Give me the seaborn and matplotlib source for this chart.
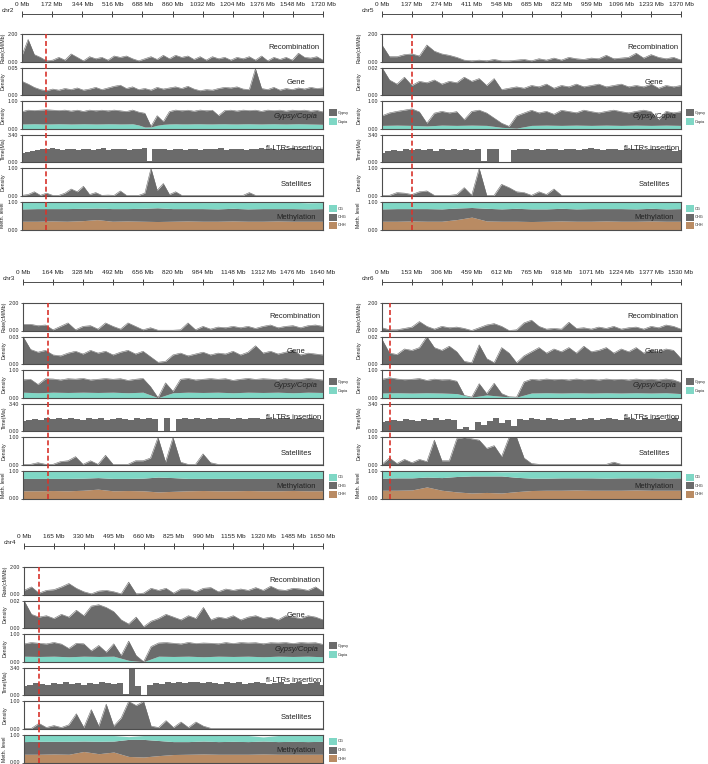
import numpy as np
import matplotlib
matplotlib.use("Agg")
import matplotlib.pyplot as plt
import seaborn as sns
from matplotlib.patches import Rectangle

# ---------------- data ----------------
chroms = ["chr2", "chr5", "chr3", "chr6", "chr4"]
chr_len = {"chr2": 1720, "chr5": 1370, "chr3": 1640, "chr6": 1530, "chr4": 1650}
gene_max = {"chr2": 0.05, "chr5": 0.02, "chr3": 0.03, "chr6": 0.02, "chr4": 0.02}
marker_mb = {"chr2": 135, "chr5": 136, "chr3": 136, "chr6": 42, "chr4": 82}

# chr2
chr2_recomb = [0.45,1.6,0.5,0.3,0.05,0.1,0.3,0.1,0.55,0.3,0.05,0.35,0.2,0.3,0.1,0.4,0.3,0.4,0.2,0.05,
               0.2,0.35,0.15,0.45,0.2,0.45,0.3,0.4,0.15,0.35,0.1,0.35,0.2,0.3,0.1,0.3,0.2,0.35,0.1,0.4,
               0.05,0.3,0.15,0.3,0.1,0.6,0.3,0.25,0.35,0.1]
chr2_gene = [0.025,0.02,0.014,0.01,0.008,0.011,0.009,0.012,0.01,0.013,0.009,0.011,0.014,0.01,0.013,0.016,
             0.018,0.012,0.015,0.01,0.012,0.009,0.014,0.011,0.013,0.015,0.012,0.016,0.011,0.008,0.01,0.009,
             0.012,0.014,0.013,0.015,0.011,0.01,0.048,0.012,0.01,0.014,0.009,0.012,0.01,0.013,0.011,0.014,
             0.012,0.013]
chr2_gypsy = [0.45,0.5,0.48,0.5,0.52,0.5,0.48,0.5,0.47,0.5,0.45,0.5,0.48,0.5,0.47,0.5,0.48,0.45,0.5,0.47,
              0.5,0.02,0.35,0.1,0.45,0.5,0.48,0.5,0.46,0.5,0.48,0.5,0.3,0.48,0.5,0.47,0.5,0.48,0.5,0.46,
              0.5,0.48,0.5,0.47,0.5,0.48,0.5,0.47,0.5,0.45]
chr2_copia = [0.17,0.18,0.17,0.18,0.17,0.18,0.17,0.18,0.17,0.18,0.03,0.15,0.18,0.17,0.18,0.17,0.18,0.17,
              0.18,0.17,0.18,0.17,0.18,0.17,0.16]
chr2_ltr = [1.2,1.3,1.4,1.5,1.7,1.6,1.8,1.6,1.5,1.7,1.6,1.5,1.6,1.7,1.5,1.6,1.8,1.5,1.6,1.7,1.6,1.5,1.7,
            1.6,1.8,0.2,1.6,1.7,1.6,1.5,1.7,1.6,1.5,1.6,1.7,1.5,1.6,1.7,1.6,1.8,1.5,1.6,1.7,1.6,1.5,1.7,
            1.6,1.8,1.7,1.6,1.5,1.7,1.6,1.8,1.6,1.7,1.6,1.5,1.7,1.6]
chr2_sat = [0.02,0.05,0.15,0.02,0.1,0.02,0.02,0.1,0.25,0.15,0.35,0.05,0.12,0.02,0.03,0.02,0.18,0.02,0.02,
            0.02,0.1,1.0,0.2,0.45,0.05,0.15,0.02,0.02,0.02,0.02,0.02,0.02,0.02,0.02,0.02,0.02,0.02,0.12,
            0.02,0.02,0.02,0.02,0.02,0.02,0.02,0.02,0.02,0.02,0.02,0.02]
chr2_chh = [0.3,0.3,0.31,0.3,0.32,0.36,0.3,0.31,0.3,0.29,0.3,0.31,0.3,0.3,0.31,0.3,0.3,0.31,0.3,0.3,0.3]
chr2_chg = [0.45,0.46,0.45,0.46,0.45,0.42,0.46,0.45,0.47,0.5,0.46,0.45,0.46,0.45,0.46,0.45,0.46,0.45,0.46,0.45,0.46]
chr2_cg = [0.23,0.22,0.23,0.22,0.22,0.2,0.22,0.23,0.21,0.19,0.22,0.23,0.22,0.23,0.22,0.23,0.22,0.22,0.23,0.22,0.22]

# chr5
chr5_recomb = [1.2,0.35,0.35,0.5,0.55,0.4,1.2,0.75,0.55,0.45,0.3,0.1,0.05,0.1,0.05,0.15,0.05,0.05,0.1,0.15,
               0.05,0.2,0.1,0.25,0.1,0.3,0.2,0.15,0.25,0.2,0.45,0.2,0.25,0.3,0.6,0.25,0.5,0.3,0.2,0.3,0.1]
chr5_gene = [0.02,0.011,0.008,0.013,0.007,0.01,0.009,0.011,0.008,0.01,0.009,0.013,0.01,0.012,0.007,0.012,
             0.004,0.005,0.006,0.005,0.007,0.006,0.008,0.005,0.007,0.006,0.008,0.006,0.007,0.008,0.006,
             0.007,0.008,0.006,0.007,0.006,0.008,0.005,0.007,0.006,0.007]
chr5_gypsy = [0.35,0.45,0.5,0.55,0.6,0.5,0.1,0.45,0.5,0.45,0.5,0.2,0.5,0.55,0.45,0.3,0.15,0.05,0.45,0.5,
              0.55,0.45,0.5,0.4,0.55,0.5,0.45,0.55,0.5,0.45,0.5,0.55,0.5,0.45,0.5,0.55,0.5,0.2,0.5,0.45,0.5]
chr5_copia = [0.12,0.13,0.12,0.1,0.13,0.12,0.13,0.12,0.05,0.02,0.12,0.13,0.12,0.13,0.12,0.13,0.12,0.13,
              0.12,0.13,0.12]
chr5_ltr = [1.2,1.4,1.5,1.4,1.6,1.5,1.7,1.5,1.6,1.4,1.6,1.5,1.7,1.5,1.6,1.5,1.6,0.1,1.6,1.7,0.0,0.0,1.5,
            1.6,1.7,1.5,1.6,1.5,1.7,1.6,1.5,1.6,1.7,1.5,1.6,1.8,1.6,1.5,1.7,1.6,1.5,1.6,1.7,1.6,1.5,1.6,
            1.7,1.5,1.6,1.4,1.5]
chr5_sat = [0.02,0.02,0.12,0.1,0.05,0.15,0.18,0.02,0.02,0.02,0.05,0.3,0.02,1.0,0.02,0.02,0.42,0.3,0.15,
            0.12,0.02,0.15,0.05,0.25,0.02,0.02,0.02,0.02,0.02,0.02,0.02,0.02,0.02,0.02,0.02,0.02,0.02,
            0.02,0.02,0.02,0.02]
chr5_chh = [0.3,0.3,0.31,0.3,0.3,0.36,0.45,0.31,0.3,0.3,0.29,0.3,0.31,0.3,0.3,0.31,0.3,0.3,0.31,0.3,0.3]
chr5_chg = [0.45,0.46,0.45,0.46,0.45,0.42,0.35,0.46,0.45,0.47,0.46,0.45,0.46,0.45,0.46,0.45,0.46,0.45,0.46,0.45,0.46]
chr5_cg = [0.24,0.23,0.23,0.23,0.24,0.2,0.2,0.22,0.24,0.22,0.24,0.24,0.23,0.24,0.23,0.23,0.24,0.24,0.22,0.24,0.23]

# chr3
chr3_recomb = [0.45,0.45,0.35,0.4,0.05,0.3,0.55,0.05,0.3,0.35,0.1,0.55,0.3,0.1,0.55,0.3,0.05,0.2,0.02,0.02,
               0.02,0.05,0.55,0.05,0.3,0.1,0.25,0.2,0.3,0.2,0.3,0.15,0.3,0.4,0.2,0.3,0.35,0.2,0.35,0.4,0.3]
chr3_gene = [0.03,0.016,0.013,0.015,0.01,0.009,0.012,0.014,0.011,0.015,0.012,0.014,0.01,0.013,0.015,0.011,
             0.014,0.008,0.002,0.003,0.01,0.012,0.009,0.011,0.013,0.01,0.012,0.011,0.014,0.01,0.013,0.02,
             0.012,0.014,0.011,0.013,0.015,0.01,0.012,0.011,0.01]
chr3_gypsy = [0.45,0.48,0.3,0.5,0.48,0.45,0.5,0.48,0.5,0.45,0.48,0.5,0.47,0.5,0.45,0.48,0.5,0.3,0.0,0.45,
              0.05,0.48,0.5,0.45,0.48,0.5,0.47,0.5,0.45,0.48,0.5,0.47,0.5,0.48,0.45,0.5,0.48,0.47,0.5,0.48,0.45]
chr3_copia = [0.2,0.18,0.2,0.19,0.2,0.19,0.2,0.18,0.2,0.0,0.18,0.2,0.19,0.2,0.18,0.2,0.19,0.2,0.18,0.2,0.19]
chr3_ltr = [1.3,1.4,1.5,1.4,1.6,1.5,1.7,1.5,1.6,1.5,1.4,1.6,1.5,1.6,1.4,1.5,1.6,1.5,1.4,1.6,1.5,1.6,1.5,
            0.0,1.6,0.0,1.5,1.6,1.5,1.7,1.5,1.6,1.5,1.7,1.6,1.5,1.6,1.5,1.7,1.6,1.5,1.6,1.5,1.7,1.6,1.5,
            1.6,1.5,1.6,1.5,1.4]
chr3_sat = [0.02,0.02,0.08,0.02,0.02,0.12,0.15,0.3,0.02,0.15,0.02,0.35,0.02,0.02,0.02,0.15,0.15,0.25,1.0,
            0.1,1.0,0.1,0.02,0.02,0.4,0.08,0.02,0.02,0.02,0.02,0.02,0.02,0.02,0.02,0.02,0.02,0.02,0.02,
            0.02,0.02,0.02]
chr3_chh = [0.28,0.28,0.29,0.28,0.3,0.34,0.28,0.29,0.28,0.24,0.26,0.28,0.29,0.28,0.28,0.29,0.28,0.28,0.29,0.28,0.28]
chr3_chg = [0.45,0.45,0.44,0.45,0.44,0.42,0.45,0.44,0.46,0.54,0.5,0.45,0.44,0.45,0.45,0.44,0.45,0.45,0.44,0.45,0.45]
chr3_cg = [0.25,0.25,0.25,0.25,0.24,0.22,0.25,0.25,0.24,0.2,0.22,0.25,0.25,0.25,0.25,0.25,0.25,0.25,0.25,0.25,0.25]

# chr6
chr6_recomb = [0.2,0.05,0.05,0.15,0.25,0.65,0.3,0.1,0.3,0.2,0.25,0.15,0.0,0.2,0.4,0.5,0.3,0.0,0.05,0.55,
               0.75,0.3,0.1,0.15,0.1,0.6,0.15,0.2,0.1,0.25,0.15,0.3,0.1,0.2,0.25,0.1,0.3,0.2,0.4,0.3,0.1]
chr6_gene = [0.018,0.008,0.007,0.011,0.01,0.012,0.02,0.012,0.01,0.013,0.009,0.002,0.001,0.014,0.004,0.001,
             0.012,0.008,0.001,0.006,0.009,0.012,0.008,0.011,0.009,0.012,0.008,0.013,0.009,0.01,0.012,
             0.008,0.011,0.009,0.012,0.008,0.01,0.009,0.011,0.01,0.004]
chr6_gypsy = [0.5,0.55,0.5,0.48,0.5,0.52,0.45,0.5,0.48,0.5,0.45,0.0,0.0,0.45,0.05,0.45,0.1,0.0,0.0,0.48,
              0.5,0.47,0.5,0.48,0.5,0.47,0.5,0.48,0.5,0.47,0.5,0.48,0.5,0.47,0.5,0.48,0.5,0.47,0.5,0.48,0.4]
chr6_copia = [0.17,0.18,0.17,0.18,0.17,0.15,0.02,0.1,0.05,0.02,0.17,0.18,0.17,0.18,0.17,0.18,0.17,0.18,
              0.17,0.18,0.15]
chr6_ltr = [1.2,1.3,1.4,1.3,1.5,1.4,1.3,1.5,1.4,1.6,1.4,1.5,1.4,0.3,0.5,0.2,1.2,0.8,1.3,1.6,1.0,1.4,0.6,
            1.5,1.4,1.6,1.5,1.4,1.6,1.5,1.4,1.5,1.6,1.4,1.5,1.6,1.4,1.5,1.6,1.5,1.4,1.6,1.5,1.4,1.6,1.5,
            1.6,1.4,1.5,1.6,1.3]
chr6_sat = [0.02,0.25,0.05,0.2,0.08,0.2,0.12,0.9,0.15,0.15,0.95,1.0,0.95,0.9,0.6,0.7,0.3,1.0,1.0,0.25,
            0.05,0.02,0.02,0.02,0.02,0.02,0.02,0.02,0.02,0.02,0.02,0.1,0.02,0.02,0.02,0.02,0.02,0.02,
            0.02,0.02,0.02]
chr6_chh = [0.3,0.3,0.31,0.42,0.3,0.24,0.2,0.22,0.2,0.25,0.29,0.3,0.3,0.31,0.3,0.3,0.3,0.31,0.3,0.3,0.3]
chr6_chg = [0.44,0.45,0.44,0.36,0.46,0.56,0.62,0.6,0.62,0.52,0.45,0.44,0.45,0.44,0.45,0.44,0.45,0.44,0.45,0.44,0.45]
chr6_cg = [0.24,0.23,0.23,0.2,0.22,0.18,0.16,0.16,0.15,0.2,0.24,0.24,0.23,0.23,0.23,0.24,0.23,0.23,0.24,0.24,0.23]

# chr4
chr4_recomb = [0.3,0.55,0.1,0.3,0.35,0.55,0.8,0.45,0.2,0.05,0.25,0.3,0.2,0.05,0.9,0.05,0.1,0.45,0.3,0.45,
               0.1,0.4,0.4,0.2,0.45,0.5,0.2,0.4,0.3,0.4,0.3,0.5,0.3,0.6,0.35,0.3,0.45,0.4,0.3,0.55,0.2]
chr4_gene = [0.02,0.01,0.008,0.009,0.007,0.01,0.008,0.013,0.009,0.016,0.017,0.015,0.012,0.006,0.003,0.008,
             0.001,0.005,0.007,0.01,0.008,0.006,0.009,0.007,0.015,0.006,0.008,0.007,0.009,0.006,0.008,
             0.009,0.007,0.008,0.006,0.009,0.008,0.007,0.009,0.008,0.006]
chr4_gypsy = [0.45,0.5,0.48,0.45,0.5,0.45,0.3,0.48,0.45,0.2,0.4,0.15,0.45,0.1,0.7,0.2,0.0,0.45,0.48,0.5,
              0.48,0.45,0.5,0.47,0.5,0.48,0.45,0.5,0.47,0.5,0.48,0.5,0.47,0.5,0.48,0.5,0.47,0.5,0.48,0.5,0.45]
chr4_copia = [0.2,0.19,0.2,0.18,0.2,0.19,0.2,0.05,0.0,0.2,0.19,0.2,0.18,0.2,0.19,0.2,0.18,0.2,0.19,0.2,0.18]
chr4_ltr = [1.2,1.3,1.5,1.4,1.3,1.5,1.4,1.6,1.4,1.5,1.3,1.5,1.4,1.6,1.5,1.4,1.5,0.1,3.3,1.1,0.0,1.3,1.5,
            1.4,1.6,1.5,1.7,1.5,1.6,1.7,1.5,1.6,1.5,1.4,1.6,1.5,1.6,1.4,1.5,1.6,1.5,1.4,1.5,1.6,1.4,1.5,
            1.6,1.4,1.5,1.6,1.3]
chr4_sat = [0.02,0.02,0.2,0.05,0.12,0.05,0.15,0.55,0.05,0.7,0.1,0.9,0.1,0.4,1.0,0.85,1.0,0.1,0.05,0.3,
            0.05,0.25,0.05,0.25,0.1,0.02,0.02,0.02,0.02,0.02,0.02,0.02,0.02,0.02,0.02,0.02,0.02,0.02,
            0.02,0.02,0.02]
chr4_chh = [0.3,0.3,0.31,0.3,0.4,0.32,0.38,0.22,0.2,0.25,0.29,0.3,0.31,0.3,0.3,0.3,0.31,0.3,0.3,0.3,0.3]
chr4_chg = [0.46,0.47,0.46,0.47,0.38,0.45,0.4,0.62,0.64,0.55,0.47,0.46,0.47,0.46,0.47,0.46,0.47,0.46,0.47,0.46,0.47]
chr4_cg = [0.22,0.21,0.22,0.21,0.2,0.21,0.2,0.1,0.14,0.18,0.22,0.22,0.21,0.22,0.21,0.22,0.15,0.22,0.21,0.22,0.21]

# ---------------- drawing ----------------
sns.set_theme(style="white")
plt.rcParams['font.family'] = ['Liberation Sans', 'DejaVu Sans']

W, H = 708, 764
fig = plt.figure(figsize=(W / 100, H / 100), dpi=100)

GRAY = '#6b6b6b'
TEAL = '#7fd7c5'
BROWN = '#b98b63'
RED = '#d8342c'
EDGE = '#4d4d4d'
TXT = '#222222'

def fx(px):
    return px / W

def fy(py):
    return 1 - py / H

def grid(L, a):
    return np.linspace(0, L, len(a))

def add_track(left, right, top, h, L, ymax, ticklabels, ylabel, ylab_off):
    ax = fig.add_axes([fx(left), fy(top + h), (right - left) / W, h / H])
    ax.set_xlim(0, L)
    ax.set_ylim(0, ymax)
    ax.set_xticks([])
    ax.set_yticks([0, ymax])
    ax.set_yticklabels(ticklabels)
    ax.tick_params(axis='y', length=1.5, width=0.5, pad=1, labelsize=3.8, colors=TXT, left=True)
    for s in ax.spines.values():
        s.set_color(EDGE)
        s.set_linewidth(0.8)
    fig.text(fx(left - ylab_off), fy(top + h / 2), ylabel, rotation=90, ha='center', va='center',
             fontsize=3.8, color=TXT)
    return ax

def fill(ax, x, y0, y1, color, step=None):
    ax.fill_between(x, y0, y1, color=color, lw=0, step=step)

def panel(name, left, right, top, line_y, ylab_off, leg_x,
          recomb, gene, gypsy, copia, ltr, sat, chh, chg, cg):
    L = chr_len[name]
    h = 27.5
    stp = 33.6
    tops = [top + i * stp for i in range(6)]
    w = right - left

    # ruler
    rax = fig.add_axes([fx(left), fy(line_y), w / W, 0.0001])
    rax.set_xlim(0, L)
    rax.set_ylim(0, 1)
    for k, s in rax.spines.items():
        s.set_visible(k == 'top')
    rax.spines['top'].set_color(EDGE)
    rax.spines['top'].set_linewidth(0.7)
    ticks = [round(L * i / 10) for i in range(11)]
    rax.xaxis.set_ticks_position('top')
    rax.xaxis.set_label_position('top')
    rax.set_xticks(ticks)
    rax.set_xticklabels([f"{t} Mb" for t in ticks])
    rax.tick_params(axis='x', direction='inout', length=4, width=0.6, pad=3, labelsize=4.6,
                    colors=TXT, top=True, bottom=False, labeltop=True, labelbottom=False)
    rax.set_yticks([])
    fig.text(fx(left - 8), fy(line_y - 4), name, ha='right', va='center', fontsize=4.6, color=TXT)

    # recombination
    ax = add_track(left, right, tops[0], h, L, 2.0, ['0.00', '2.00'], 'Rate(cM/Mb)', ylab_off)
    x = grid(L, recomb)
    fill(ax, x, 0, recomb, GRAY)
    sns.lineplot(x=x, y=recomb, ax=ax, color=GRAY, lw=0.4)
    ax.set_xlabel(''); ax.set_ylabel('')
    ax.text(0.99, 0.5, 'Recombination', transform=ax.transAxes, ha='right', va='center',
            fontsize=5.5, color=TXT)

    # gene
    gm = gene_max[name]
    ax = add_track(left, right, tops[1], h, L, gm, ['0.00', f'{gm:.2f}'], 'Density', ylab_off)
    x = grid(L, gene)
    fill(ax, x, 0, gene, GRAY)
    sns.lineplot(x=x, y=gene, ax=ax, color=GRAY, lw=0.4)
    ax.set_xlabel(''); ax.set_ylabel('')
    ax.text(0.91, 0.46, 'Gene', transform=ax.transAxes, ha='center', va='center',
            fontsize=5.5, color=TXT)

    # gypsy / copia
    ax = add_track(left, right, tops[2], h, L, 1.0, ['0.00', '1.00'], 'Density', ylab_off)
    x = grid(L, gypsy)
    cop = np.interp(x, grid(L, copia), copia)
    top_line = cop + np.array(gypsy)
    fill(ax, x, 0, cop, TEAL)
    fill(ax, x, cop, top_line, GRAY)
    sns.lineplot(x=x, y=top_line, ax=ax, color=GRAY, lw=0.4)
    ax.set_xlabel(''); ax.set_ylabel('')
    ax.text(0.91, 0.44, 'Gypsy/Copia', transform=ax.transAxes, ha='center', va='center',
            fontsize=5.5, color=TXT, style='italic')

    # LTR insertion
    ax = add_track(left, right, tops[3], h, L, 3.4, ['0.00', '3.40'], 'Time(Ma)', ylab_off)
    x = grid(L, ltr)
    fill(ax, x, 0, ltr, GRAY, step='mid')
    ax.text(0.995, 0.52, 'fl-LTRs insertion', transform=ax.transAxes, ha='right', va='center',
            fontsize=5.5, color=TXT)

    # satellites
    ax = add_track(left, right, tops[4], h, L, 1.0, ['0.00', '1.00'], 'Density', ylab_off)
    x = grid(L, sat)
    fill(ax, x, 0, sat, GRAY)
    sns.lineplot(x=x, y=sat, ax=ax, color=GRAY, lw=0.4)
    ax.set_xlabel(''); ax.set_ylabel('')
    ax.text(0.91, 0.4, 'Satellites', transform=ax.transAxes, ha='center', va='center',
            fontsize=5.5, color=TXT)

    # methylation
    ax = add_track(left, right, tops[5], h, L, 1.0, ['0.00', '1.00'], 'Meth. level', ylab_off)
    x = grid(L, chh)
    a = np.array(chh)
    b = a + np.array(chg)
    c = b + np.array(cg)
    fill(ax, x, 0, a, BROWN)
    fill(ax, x, a, b, GRAY)
    fill(ax, x, b, c, TEAL)
    ax.text(0.91, 0.43, 'Methylation', transform=ax.transAxes, ha='center', va='center',
            fontsize=5.5, color=TXT)

    # red dashed marker
    oax = fig.add_axes([fx(left), fy(tops[5] + h), w / W, (tops[5] + h - tops[0]) / H])
    oax.set_xlim(0, L)
    oax.set_ylim(0, 1)
    oax.axis('off')
    oax.axvline(marker_mb[name], color=RED, lw=1.2, ls=(0, (3, 1.6)))

    # legends
    def sq(px, py, col, label):
        fig.add_artist(Rectangle((fx(px), fy(py + 7)), 7.5 / W, 7 / H, transform=fig.transFigure,
                                 color=col, lw=0))
        fig.text(fx(px + 9), fy(py + 3.5), label, ha='left', va='center', fontsize=2.8, color=TXT)
    sq(leg_x, tops[2] + 8, GRAY, 'Gypsy')
    sq(leg_x, tops[2] + 17, TEAL, 'Copia')
    sq(leg_x, tops[5] + 3, TEAL, 'CG')
    sq(leg_x, tops[5] + 11.5, GRAY, 'CHG')
    sq(leg_x, tops[5] + 20, BROWN, 'CHH')

panel('chr2', 22, 323, 34, 14, 19, 329,
      chr2_recomb, chr2_gene, chr2_gypsy, chr2_copia, chr2_ltr, chr2_sat, chr2_chh, chr2_chg, chr2_cg)
panel('chr5', 382, 681, 34, 14, 23, 686,
      chr5_recomb, chr5_gene, chr5_gypsy, chr5_copia, chr5_ltr, chr5_sat, chr5_chh, chr5_chg, chr5_cg)
panel('chr3', 23, 323, 303, 282, 19, 329,
      chr3_recomb, chr3_gene, chr3_gypsy, chr3_copia, chr3_ltr, chr3_sat, chr3_chh, chr3_chg, chr3_cg)
panel('chr6', 382, 681, 303, 282, 23, 686,
      chr6_recomb, chr6_gene, chr6_gypsy, chr6_copia, chr6_ltr, chr6_sat, chr6_chh, chr6_chg, chr6_cg)
panel('chr4', 24, 323, 567, 546, 19, 329,
      chr4_recomb, chr4_gene, chr4_gypsy, chr4_copia, chr4_ltr, chr4_sat, chr4_chh, chr4_chg, chr4_cg)

fig.savefig('out.png', dpi=100)
